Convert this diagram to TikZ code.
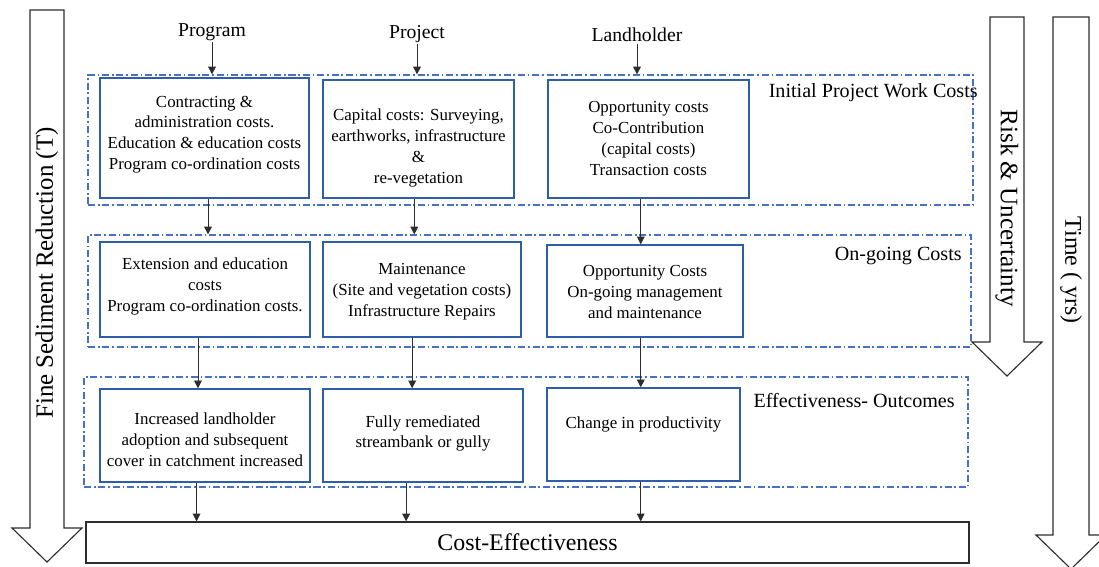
\documentclass[tikz,border=0pt]{standalone}
\usepackage{fontspec}
\setmainfont{Liberation Serif}
\usepackage{xcolor}
\usepackage{tikz}
\usetikzlibrary{arrows.meta,positioning,fit}

\definecolor{boxblue}{RGB}{47,94,168}
\definecolor{frameblue}{RGB}{68,114,196}
\definecolor{inkgray}{RGB}{45,45,45}

\begin{document}
\begin{tikzpicture}[
			x=0.025cm, y=-0.025cm,
			costbox/.style={rectangle, draw=boxblue, line width=1pt, inner sep=0pt},
			boxtext/.style={align=center, inner sep=0pt, font=\fontsize{12}{14.8}\selectfont},
			grpframe/.style={rectangle, draw=frameblue, line width=0.9pt, inner sep=0pt, dash pattern=on 5pt off 2pt on 1.2pt off 2pt},
			grplabel/.style={anchor=east, inner sep=0pt, font=\fontsize{14.3}{16}\selectfont},
			hdr/.style={inner sep=1pt, font=\fontsize{14}{16}\selectfont},
			bigarrow/.style={draw=inkgray, line width=0.8pt, fill=white},
			flow/.style={draw=inkgray, line width=0.6pt, -{Triangle[length=5.5pt,width=5.5pt]}}
			]
			\useasboundingbox (0,0) rectangle (1099,566);
			
			% Big side arrows
			\draw[bigarrow] (30,10) -- (64,10) -- (64,528) -- (82,528) -- (47,562) -- (12,528) -- (30,528) -- cycle;
			\node[rotate=90, font=\fontsize{17.7}{19}\selectfont] (sediment) at (47,273) {Fine Sediment Reduction (T)};
			\draw[bigarrow] (990,17) -- (1024,17) -- (1024,342) -- (1042,342) -- (1007,376) -- (972,342) -- (990,342) -- cycle;
			\node[rotate=-90, font=\fontsize{17.9}{19}\selectfont] (risk) at (1007,208) {Risk \& Uncertainty};
			\draw[bigarrow] (1053,17) -- (1089,17) -- (1089,535) -- (1106,535) -- (1071,569) -- (1036,535) -- (1053,535) -- cycle;
			\node[rotate=-90, font=\fontsize{17}{19}\selectfont] (time) at (1071,270) {Time ( yrs)};
			
			% Group frames
			\node[grpframe, fit={(88,75) (973,205)}] (initFrame) {};
			\node[grpframe, fit={(88,235) (971,347)}] (onFrame) {};
			\node[grpframe, fit={(84,377) (968,487)}] (outFrame) {};
			\node[grplabel] (initLbl) at (978,93) {Initial Project Work Costs};
			\node[grplabel] (onLbl) at (962,256) {On-going Costs};
			\node[grplabel] (outLbl) at (955,401) {Effectiveness- Outcomes};
			
			% Headers
			\node[hdr] (progHead) at (212,32) {Program};
			\node[hdr] (projHead) at (417,34) {Project};
			\node[hdr] (landHead) at (637,35) {Landholder};
			
			% Initial costs
			\node[costbox, fit={(100,78) (309,198)},
				label={[boxtext, yshift=2.5pt]center:{Contracting \&\\ administration costs.\\ Education \& education costs\\ Program co-ordination costs}}] (progInit) {};
			\node[costbox, fit={(323,80) (514,198)},
				label={[boxtext, yshift=-6.4pt]center:{Capital costs: Surveying,\\ earthworks, infrastructure\\ \&\\ re-vegetation}}] (projInit) {};
			\node[costbox, fit={(548,80) (749,198)},
				label={[boxtext, yshift=0.5pt]center:{Opportunity costs\\ Co-Contribution\\ (capital costs)\\ Transaction costs}}] (landInit) {};
			
			% On-going costs
			\node[costbox, fit={(100,242) (310,337)},
				label={[boxtext, yshift=2pt]center:{Extension and education\\ costs\\ Program co-ordination costs.}}] (progOn) {};
			\node[costbox, fit={(323,242) (521,337)},
				label={[boxtext, yshift=-1.4pt]center:{Maintenance\\ (Site and vegetation costs)\\ Infrastructure Repairs}}] (projOn) {};
			\node[costbox, fit={(547,245) (743,337)},
				label={[boxtext, yshift=-0.7pt]center:{Opportunity Costs\\ On-going management\\ and maintenance}}] (landOn) {};
			
			% Outcomes
			\node[costbox, fit={(100,389) (310,482)},
				label={[boxtext, yshift=-3.2pt]center:{Increased landholder\\ adoption and subsequent\\ cover in catchment increased}}] (progOut) {};
			\node[costbox, fit={(323,389) (523,482)},
				label={[boxtext, yshift=1.5pt]center:{Fully remediated\\ streambank or gully}}] (projOut) {};
			\node[costbox, fit={(547,388) (740,481)},
				label={[boxtext, yshift=6.8pt]center:{Change in productivity}}] (landOut) {};
			
			\node[rectangle, draw=inkgray, line width=0.9pt, inner sep=0pt, fit={(86,522) (969,563)},
				label={[inner sep=0pt, font=\fontsize{17}{19}\selectfont]center:Cost-Effectiveness}] (costeff) {};
			
			% Connectors
			\path[flow] (progHead) -- (progHead |- initFrame.north);
			\path[flow] (projHead) -- (projHead |- initFrame.north);
			\path[flow] (landHead) -- (landHead |- initFrame.north);
			\path[flow] ([xshift=2.5]progInit.south) -- ([xshift=2.5]progInit.south |- onFrame.north);
			\path[flow] ([xshift=-3]projInit.south) -- ([xshift=-3]projInit.south |- onFrame.north);
			\path[flow] ([xshift=-5.5]landInit.south) -- ([xshift=-5.5]landInit.south |- landOn.north);
			\path[flow] ([xshift=-5]progOn.south) -- ([xshift=-5]progOn.south |- progOut.north);
			\path[flow] ([xshift=-7]projOn.south) -- ([xshift=-7]projOn.south |- projOut.north);
			\path[flow] ([xshift=-3]landOn.south) -- ([xshift=-3]landOn.south |- landOut.north);
			\path[flow] ([xshift=-6]progOut.south) -- ([xshift=-6]progOut.south |- costeff.north);
			\path[flow] ([xshift=-12]projOut.south) -- ([xshift=-12]projOut.south |- costeff.north);
			\path[flow] ([xshift=-2]landOut.south) -- ([xshift=-2]landOut.south |- costeff.north);
		\end{tikzpicture}
\end{document}
